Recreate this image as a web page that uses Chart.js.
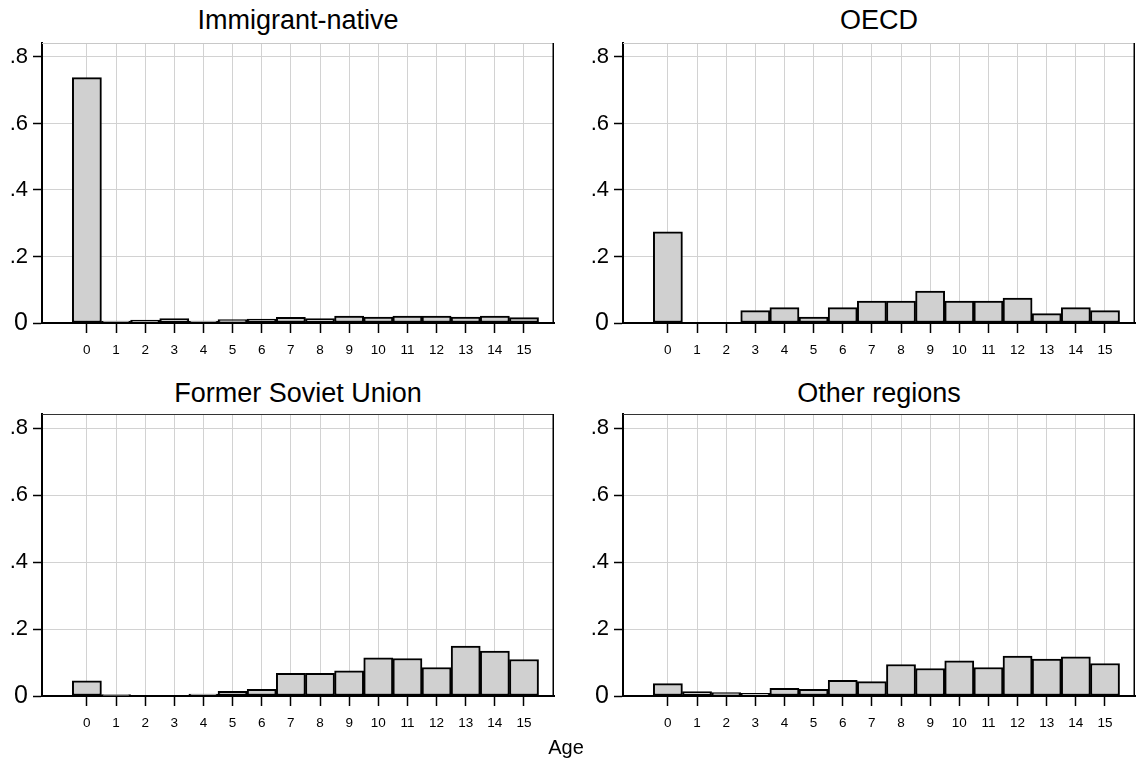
<!DOCTYPE html>
<html>
<head>
<meta charset="utf-8">
<script src="https://cdn.jsdelivr.net/npm/chart.js@4"></script>
<style>
  body { margin: 0; background: #fff; }
  #wrap { position: relative; width: 1136px; height: 769px; font-family: "Liberation Sans", Arial, sans-serif; }
  canvas { position: absolute; }
  .ttl { position: absolute; width: 512px; text-align: center; font-size: 27px; line-height: 30px; color: #000; }
  #age { position: absolute; left: 466px; width: 200px; top: 735px; text-align: center; font-size: 20px; line-height: 24px; }
</style>
</head>
<body>
<div id="wrap">
  <div class="ttl" style="left:42px;top:5px">Immigrant-native</div>
  <div class="ttl" style="left:623px;top:5px">OECD</div>
  <div class="ttl" style="left:42px;top:378px">Former Soviet Union</div>
  <div class="ttl" style="left:623px;top:378px">Other regions</div>
  <canvas id="c1" width="568" height="365" style="left:0;top:0"></canvas>
  <canvas id="c2" width="568" height="365" style="left:568px;top:0"></canvas>
  <canvas id="c3" width="568" height="369" style="left:0;top:370px"></canvas>
  <canvas id="c4" width="568" height="369" style="left:568px;top:370px"></canvas>
  <div id="age">Age</div>
</div>
<script>
const ages = [0, 1, 2, 3, 4, 5, 6, 7, 8, 9, 10, 11, 12, 13, 14, 15];
const yTicks = [0, 0.2, 0.4, 0.6, 0.8];

const immigrantNative = [0.738, 0.006, 0.009, 0.013, 0.006, 0.010, 0.012, 0.017, 0.013, 0.021, 0.018, 0.021, 0.021, 0.018, 0.021, 0.016];
const oecd = [0.274, 0, 0, 0.037, 0.046, 0.018, 0.046, 0.066, 0.066, 0.096, 0.066, 0.066, 0.075, 0.028, 0.046, 0.037];
const formerSoviet = [0.045, 0.004, 0, 0, 0.006, 0.014, 0.020, 0.068, 0.068, 0.075, 0.114, 0.112, 0.085, 0.149, 0.134, 0.109];
const otherRegions = [0.037, 0.013, 0.010, 0.008, 0.023, 0.020, 0.047, 0.043, 0.094, 0.082, 0.105, 0.085, 0.119, 0.110, 0.117, 0.097];

const FONT = '"Liberation Sans", Arial, sans-serif';

// right + top frame lines
const framePlugin = {
  id: 'frame',
  afterDraw(chart, args, opts) {
    const a = chart.chartArea, ctx = chart.ctx;
    ctx.save();
    ctx.lineWidth = 1;
    ctx.strokeStyle = opts.topColor;
    ctx.beginPath();
    ctx.moveTo(a.left, a.top + 0.5);
    ctx.lineTo(a.right, a.top + 0.5);
    ctx.stroke();
    ctx.lineWidth = 1.5;
    ctx.strokeStyle = '#000';
    ctx.beginPath();
    ctx.moveTo(a.right - 0.75, a.top);
    ctx.lineTo(a.right - 0.75, a.bottom);
    ctx.stroke();
    ctx.restore();
  }
};

function makePanel(id, values, yWidth, padRight, padTop, xHeight, topColor) {
  new Chart(document.getElementById(id), {
    type: 'bar',
    data: {
      datasets: [{
        data: ages.map((a, i) => ({ x: a, y: values[i] })),
        backgroundColor: '#d0d0d0',
        borderColor: '#000',
        borderWidth: 2,
        borderSkipped: false,
        barPercentage: 1,
        categoryPercentage: 1
      }]
    },
    options: {
      responsive: false,
      animation: false,
      layout: { padding: { top: padTop, right: padRight, left: 0, bottom: 0 } },
      plugins: { legend: { display: false }, tooltip: { enabled: false }, frame: { topColor } },
      scales: {
        x: {
          type: 'linear',
          offset: false,
          min: -1.54,
          max: 16.03,
          afterBuildTicks: s => { s.ticks = ages.map(v => ({ value: v })); },
          afterFit: s => { s.height = xHeight; },
          ticks: { autoSkip: false, maxRotation: 0, padding: 9, color: '#000', font: { family: FONT, size: 13.5 }, callback: v => String(v) },
          grid: { offset: false, color: '#d2d2d2', lineWidth: 1, tickLength: 10, tickColor: '#000', tickWidth: 1.5 },
          border: { color: '#000', width: 2 }
        },
        y: {
          min: 0,
          max: 0.842,
          afterBuildTicks: s => { s.ticks = yTicks.map(v => ({ value: v })); },
          afterFit: s => { s.width = yWidth; },
          ticks: {
            padding: 5, color: '#000',
            font: ctx => ({ family: FONT, size: ctx.tick && ctx.tick.value === 0 ? 25 : 22 }),
            callback: v => v === 0 ? '0' : String(Math.round(v * 10) / 10).replace(/^0/, '')
          },
          grid: { color: '#d2d2d2', lineWidth: 1, tickLength: 9, tickColor: '#000', tickWidth: 1.5 },
          border: { color: '#000', width: 2 }
        }
      }
    },
    plugins: [framePlugin]
  });
}

makePanel('c1', immigrantNative, 42, 14, 43, 42, '#c8c8c8');
makePanel('c2', oecd, 55, 1, 43, 42, '#c8c8c8');
makePanel('c3', formerSoviet, 42, 14, 44, 43, '#333');
makePanel('c4', otherRegions, 55, 1, 44, 43, '#333');
</script>
</body>
</html>
